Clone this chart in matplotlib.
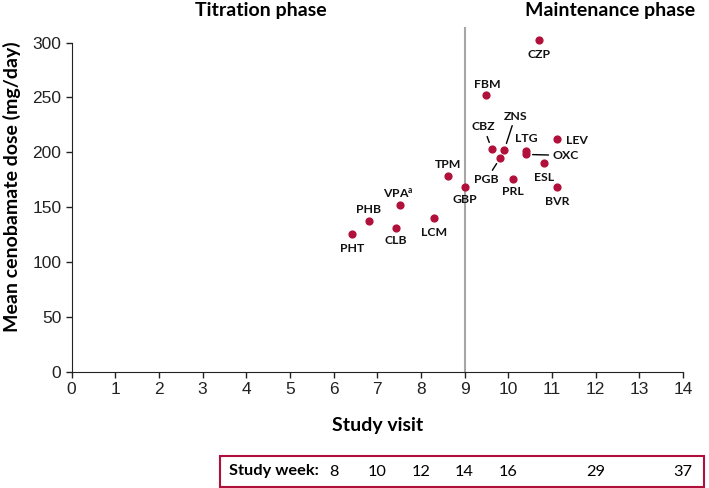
import numpy as np
import matplotlib
matplotlib.use("Agg")
import matplotlib.pyplot as plt
from matplotlib.patches import Rectangle

plt.rcParams["mathtext.default"] = "regular"

# data: study visit vs mean cenobamate dose per concomitant ASM
drugs = ["PHT", "PHB", "CLB", "VPA", "LCM", "TPM", "GBP", "CZP", "FBM", "CBZ",
         "ZNS", "PGB", "LTG", "OXC", "LEV", "ESL", "PRL", "BVR"]
visit = [6.42, 6.81, 7.42, 7.51, 8.29, 8.62, 9.0, 10.70, 9.49, 9.62,
         9.91, 9.82, 10.40, 10.40, 11.11, 10.82, 10.11, 11.11]
dose = [125, 137, 131, 152, 140, 178, 168, 302, 252, 203,
        202, 195, 201, 198, 212, 190, 176, 168]

week_visits = [6, 7, 8, 9, 10, 12, 14]
week_labels = ["8", "10", "12", "14", "16", "29", "37"]

RED = "#B0103A"

# label offsets in pixels (dx, dy, ha, leader line)
label_pos = {
    "PHT": (0, -14, "center", False), "PHB": (0, 12, "center", False),
    "CLB": (0, -13, "center", False), "VPA": (-1, 12, "center", False),
    "LCM": (0, -14, "center", False), "TPM": (0, 12, "center", False),
    "GBP": (0, -12, "center", False), "CZP": (0, -14, "center", False),
    "FBM": (1, 11, "center", False), "CBZ": (-8, 22, "center", True),
    "ZNS": (11, 34, "center", True), "PGB": (-14, -22, "center", True),
    "LTG": (1, 13, "center", False), "OXC": (27, -1, "left", True),
    "LEV": (9, -1, "left", False), "ESL": (0, -14, "center", False),
    "PRL": (0, -13, "center", False), "BVR": (1, -14, "center", False),
}

fig = plt.figure(figsize=(7.09, 4.88), dpi=100)
ax = fig.add_axes([0.1011, 0.2387, 0.862, 0.674])

ax.axvline(9, ymin=0, ymax=1.045, color="#A6A6A6", lw=1.5, clip_on=False, zorder=1)
ax.scatter(visit, dose, s=24, color=RED, zorder=3, clip_on=False)

for name, x, y in zip(drugs, visit, dose):
    dx, dy, ha, lead = label_pos[name]
    txt = "VPA$^{a}$" if name == "VPA" else name
    arrow = None
    if lead:
        arrow = dict(arrowstyle="-", color="black", lw=1, shrinkA=1, shrinkB=5)
    ax.annotate(txt, (x, y), xytext=(dx, dy), textcoords="offset pixels",
                ha=ha, va="center", fontsize=8.8, fontweight="bold",
                family="Lato", color="#111111", arrowprops=arrow,
                annotation_clip=False)

ax.set_xlim(0, 14)
ax.set_ylim(0, 300)
ax.set_xticks(range(0, 15))
ax.set_yticks(range(0, 301, 50))
for lab in ax.get_xticklabels() + ax.get_yticklabels():
    lab.set_family(["Liberation Sans Narrow", "Liberation Sans"])
    lab.set_fontsize(12.5)
ax.tick_params(direction="out", length=4, width=1, colors="#222222", pad=3.5)
ax.spines["top"].set_visible(False)
ax.spines["right"].set_visible(False)
ax.spines["left"].set_color("#222222")
ax.spines["bottom"].set_color("#222222")

ax.set_xlabel("Study visit", fontsize=14, fontweight="bold", family="Lato")
ax.xaxis.set_label_coords(0.5, -0.163)
ax.xaxis.label.set_va("center")
ax.set_ylabel("Mean cenobamate dose (mg/day)", fontsize=14, fontweight="bold",
              family="Lato")
ax.yaxis.set_label_coords(-0.0977, 0.561)
ax.yaxis.label.set_va("center")

fig.text(0.368, 0.978, "Titration phase", ha="center", va="center",
         fontsize=14, fontweight="bold", family="Lato")
fig.text(0.860, 0.978, "Maintenance phase", ha="center", va="center",
         fontsize=14, fontweight="bold", family="Lato")

# study week box under the axis
fig.patches.append(Rectangle((220 / 709, 1 - 487 / 488), 484 / 709, 31 / 488,
                             transform=fig.transFigure, fill=False,
                             edgecolor=RED, lw=1.5))
trans = matplotlib.transforms.blended_transform_factory(ax.transData, fig.transFigure)
box_y = 1 - 471.5 / 488
fig.text(229 / 709, box_y, "Study week:", ha="left", va="center", fontsize=11.8,
         fontweight="bold", family="Lato")
for wv, wl in zip(week_visits, week_labels):
    ax.text(wv, box_y, wl, transform=trans, ha="center", va="center",
            fontsize=11.8, family="Lato", clip_on=False)

fig.savefig("out.png", dpi=100)
